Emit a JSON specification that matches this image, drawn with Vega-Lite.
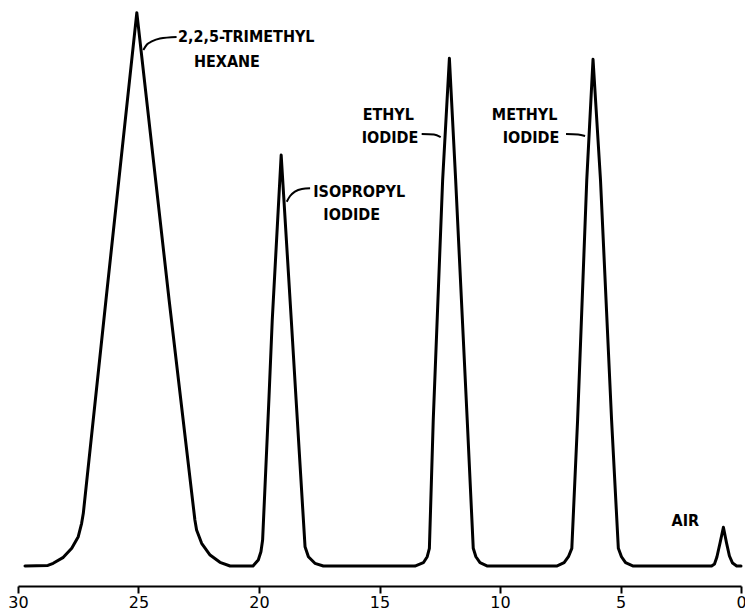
{
  "$schema": "https://vega.github.io/schema/vega-lite/v6.json",
  "width": 723,
  "height": 582,
  "autosize": {"type": "none"},
  "padding": {"left": 18, "top": 4, "right": 4, "bottom": 24},
  "background": "white",
  "config": {"view": {"stroke": null}},
  "datasets": {
    "trace": [
      {"t": 29.71, "response": 0},
      {"t": 28.76, "response": 0.1},
      {"t": 28.54, "response": 0.49},
      {"t": 28.12, "response": 1.57},
      {"t": 27.77, "response": 3.2},
      {"t": 27.5, "response": 5.3},
      {"t": 27.36, "response": 7.72},
      {"t": 27.29, "response": 9.52},
      {"t": 26.35, "response": 48.08},
      {"t": 25.07, "response": 100.0},
      {"t": 23.73, "response": 48.08},
      {"t": 22.66, "response": 8.31},
      {"t": 22.59, "response": 6.51},
      {"t": 22.38, "response": 4.1},
      {"t": 22.03, "response": 1.99},
      {"t": 21.62, "response": 0.67},
      {"t": 21.2, "response": 0},
      {"t": 20.25, "response": 0},
      {"t": 20.03, "response": 1.08},
      {"t": 19.92, "response": 2.58},
      {"t": 19.85, "response": 4.7},
      {"t": 19.59, "response": 30.0},
      {"t": 19.45, "response": 44.46},
      {"t": 19.08, "response": 74.28},
      {"t": 18.66, "response": 44.46},
      {"t": 18.46, "response": 30.0},
      {"t": 18.09, "response": 3.49},
      {"t": 17.95, "response": 1.68},
      {"t": 17.68, "response": 0.49},
      {"t": 17.33, "response": 0},
      {"t": 13.53, "response": 0},
      {"t": 13.18, "response": 0.6},
      {"t": 13.02, "response": 1.68},
      {"t": 12.93, "response": 3.2},
      {"t": 12.77, "response": 26.39},
      {"t": 12.38, "response": 69.76},
      {"t": 12.1, "response": 91.76},
      {"t": 11.84, "response": 69.76},
      {"t": 11.36, "response": 26.39},
      {"t": 11.11, "response": 3.2},
      {"t": 11.0, "response": 1.68},
      {"t": 10.83, "response": 0.6},
      {"t": 10.52, "response": 0},
      {"t": 7.65, "response": 0},
      {"t": 7.34, "response": 0.6},
      {"t": 7.16, "response": 1.68},
      {"t": 7.02, "response": 3.2},
      {"t": 6.78, "response": 26.39},
      {"t": 6.4, "response": 69.76},
      {"t": 6.14, "response": 91.58},
      {"t": 5.83, "response": 69.76},
      {"t": 5.37, "response": 26.39},
      {"t": 5.09, "response": 3.2},
      {"t": 4.96, "response": 1.68},
      {"t": 4.79, "response": 0.6},
      {"t": 4.47, "response": 0},
      {"t": 1.22, "response": 0},
      {"t": 1.1, "response": 0.36},
      {"t": 1.0, "response": 1.63},
      {"t": 0.87, "response": 4.16},
      {"t": 0.73, "response": 7.0},
      {"t": 0.6, "response": 4.16},
      {"t": 0.48, "response": 1.81},
      {"t": 0.35, "response": 0.54},
      {"t": 0.18, "response": 0},
      {"t": 0.0, "response": 0}
    ],
    "leaders": [
      {"peak": "hexane", "i": 0, "t": 24.8, "response": 93.26},
      {"peak": "hexane", "i": 1, "t": 24.65, "response": 94.25},
      {"peak": "hexane", "i": 2, "t": 24.45, "response": 94.8},
      {"peak": "hexane", "i": 3, "t": 24.11, "response": 95.34},
      {"peak": "hexane", "i": 4, "t": 23.42, "response": 95.61},
      {"peak": "isopropyl", "i": 0, "t": 18.85, "response": 65.84},
      {"peak": "isopropyl", "i": 1, "t": 18.71, "response": 66.87},
      {"peak": "isopropyl", "i": 2, "t": 18.51, "response": 67.65},
      {"peak": "isopropyl", "i": 3, "t": 18.22, "response": 68.14},
      {"peak": "isopropyl", "i": 4, "t": 17.88, "response": 68.26},
      {"peak": "ethyl", "i": 0, "t": 13.25, "response": 78.08},
      {"peak": "ethyl", "i": 1, "t": 12.74, "response": 77.99},
      {"peak": "ethyl", "i": 2, "t": 12.46, "response": 77.53},
      {"peak": "methyl", "i": 0, "t": 7.26, "response": 78.08},
      {"peak": "methyl", "i": 1, "t": 6.76, "response": 77.99},
      {"peak": "methyl", "i": 2, "t": 6.47, "response": 77.71}
    ],
    "labels": [
      {"text": "2,2,5-TRIMETHYL", "t": 23.36, "response": 95.6},
      {"text": "HEXANE", "t": 22.7, "response": 91.0},
      {"text": "ISOPROPYL", "t": 17.75, "response": 67.65},
      {"text": "IODIDE", "t": 17.33, "response": 63.44},
      {"text": "ETHYL", "t": 15.7, "response": 81.51},
      {"text": "IODIDE", "t": 15.74, "response": 77.3},
      {"text": "METHYL", "t": 10.34, "response": 81.51},
      {"text": "IODIDE", "t": 9.89, "response": 77.3},
      {"text": "AIR", "t": 2.88, "response": 8.13}
    ]
  },
  "encoding": {
    "x": {
      "field": "t",
      "type": "quantitative",
      "scale": {"domain": [30, 0], "nice": false, "zero": false},
      "axis": {
        "title": null,
        "values": [30, 25, 20, 15, 10, 5, 0],
        "format": "d",
        "grid": false,
        "domainColor": "black",
        "domainWidth": 2,
        "tickColor": "black",
        "tickWidth": 2,
        "tickSize": 7,
        "labelPadding": 1,
        "labelFont": "DejaVu Sans",
        "labelFontSize": 16,
        "labelColor": "black",
        "labelFlush": false,
        "labelOverlap": false
      }
    },
    "y": {
      "field": "response",
      "type": "quantitative",
      "scale": {"domain": [-3.61, 101.57], "nice": false, "zero": false},
      "axis": null
    }
  },
  "layer": [
    {
      "data": {"name": "trace"},
      "mark": {"type": "line", "color": "black", "strokeWidth": 3, "strokeJoin": "round", "strokeCap": "round", "interpolate": "linear"}
    },
    {
      "data": {"name": "leaders"},
      "mark": {"type": "line", "color": "black", "strokeWidth": 2, "interpolate": "monotone"},
      "encoding": {
        "detail": {"field": "peak"},
        "order": {"field": "i", "type": "quantitative"}
      }
    },
    {
      "data": {"name": "labels"},
      "mark": {"type": "text", "align": "left", "baseline": "middle", "font": "DejaVu Sans Condensed", "fontWeight": "bold", "fontSize": 16, "color": "black"},
      "encoding": {"text": {"field": "text"}}
    }
  ]
}
